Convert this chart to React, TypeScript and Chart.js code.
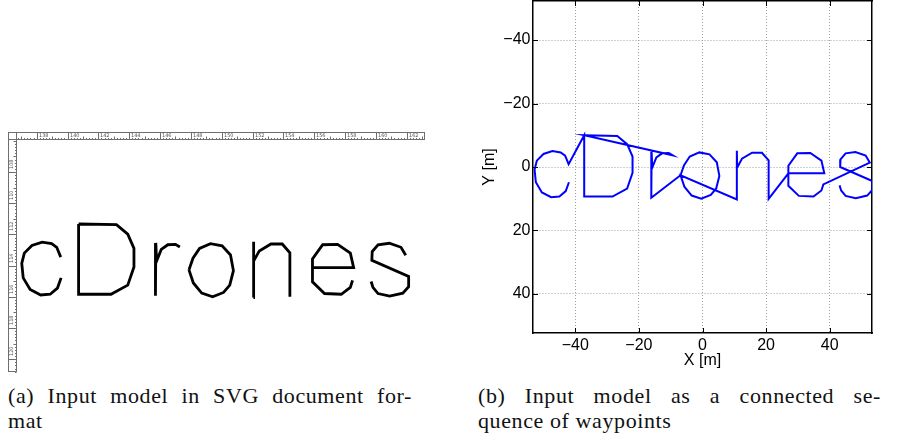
import React, { useEffect, useRef } from 'react';
import { Chart, registerables } from 'chart.js';

Chart.register(...registerables);

type Pt = [number, number];

// Waypoints of each letter stroke (metres; y grows downwards)
const LETTER_C: Pt[] = [
  [-42.0, 4.8], [-43.0, 7.6], [-45.0, 9.3], [-47.6, 9.5], [-50.5, 8.0], [-52.4, 4.8],
  [-52.8, 0.8], [-52.1, -2.0], [-50.0, -4.1], [-47.2, -5.0], [-44.6, -4.6], [-43.2, -3.6], [-42.1, -0.9],
];
const LETTER_D: Pt[] = [
  [-37.2, -10.0], [-37.2, 9.3], [-28.3, 9.3], [-23.7, 6.8], [-22.0, 1.8], [-22.0, -3.3],
  [-23.7, -7.2], [-26.8, -9.8], [-37.2, -10.0],
];
const LETTER_R: Pt[] = [
  [-9.4, -3.7], [-10.6, -4.4], [-12.7, -4.3], [-14.5, -3.0], [-15.8, 0.2], [-16.0, -4.8], [-16.1, 9.7],
];
const LETTER_O: Pt[] = [
  [-6.9, 2.6], [-5.8, -0.6], [-4.0, -3.3], [-1.0, -4.6], [2.2, -4.0], [4.5, -1.5], [5.3, 2.8],
  [4.3, 6.8], [2.6, 8.8], [-0.4, 10.0], [-3.4, 9.0], [-5.7, 6.2], [-6.9, 2.6],
];
const LETTER_N: Pt[] = [
  [10.8, 10.2], [10.8, -5.1], [10.9, 0.2], [12.4, -2.6], [15.6, -4.5], [18.7, -4.5], [20.8, -2.1], [20.8, 10.0],
];
const LETTER_E: Pt[] = [
  [27.0, 2.0], [27.0, -0.4], [29.8, -4.3], [33.9, -4.4], [37.4, -2.0], [38.3, 2.0], [27.0, 2.0],
  [27.0, 5.9], [30.3, 9.1], [34.9, 9.3], [37.4, 7.4], [38.0, 5.5],
];
const LETTER_S: Pt[] = [
  [52.6, -1.4], [51.3, -3.6], [48.1, -4.7], [45.0, -4.3], [43.4, -2.4], [43.3, 0.0], [53.4, 4.4],
  [53.4, 7.2], [51.8, 9.0], [48.2, 9.8], [45.0, 9.1], [43.6, 7.4], [43.1, 5.8],
];
const STROKES: Pt[][] = [LETTER_C, LETTER_D, LETTER_R, LETTER_O, LETTER_N, LETTER_E, LETTER_S];

const AXIS_TICKS = [-40, -20, 0, 20, 40];
const TOP_RULER_TICKS = [138, 140, 142, 144, 146, 148, 150, 152, 154, 156, 158, 160, 162];
const LEFT_RULER_TICKS = [108, 110, 112, 114, 116, 118, 120];

const AXIS_FONT = '"Liberation Sans", Arial, Helvetica, sans-serif';

const fmt = (v: number) => (v < 0 ? '\u2212' + Math.abs(v) : String(v));

const rulerPlugin = {
  id: 'svgRuler',
  afterDraw(chart: any) {
    const { ctx, chartArea: a, scales } = chart;
    const rx = scales.rx;
    const ry = scales.ry;
    const x0 = a.left - 8;
    const y0 = a.top - 7;
    ctx.save();
    ctx.lineWidth = 1;
    ctx.strokeStyle = '#6e6e6e';
    ctx.strokeRect(x0 + 0.5, y0 + 0.5, a.right - x0 - 1, 7);
    ctx.strokeRect(x0 + 0.5, y0 + 0.5, 8, a.bottom - y0 - 1);
    ctx.beginPath();
    for (let k = Math.ceil(rx.min * 5); k <= Math.floor(rx.max * 5); k++) {
      const px = Math.round(rx.getPixelForValue(k / 5)) + 0.5;
      const len = k % 5 === 0 ? 3 : 1.5;
      ctx.moveTo(px, y0 + 7.5);
      ctx.lineTo(px, y0 + 7.5 - len);
    }
    for (let k = Math.ceil(ry.min * 5); k <= Math.floor(ry.max * 5); k++) {
      const py = Math.round(ry.getPixelForValue(k / 5)) + 0.5;
      const len = k % 5 === 0 ? 3 : 1.5;
      ctx.moveTo(x0 + 8.5, py);
      ctx.lineTo(x0 + 8.5 - len, py);
    }
    TOP_RULER_TICKS.forEach((v) => {
      const px = Math.round(rx.getPixelForValue(v)) + 0.5;
      ctx.moveTo(px, y0 + 0.5);
      ctx.lineTo(px, y0 + 7.5);
    });
    LEFT_RULER_TICKS.forEach((v) => {
      const py = Math.round(ry.getPixelForValue(v)) + 0.5;
      ctx.moveTo(x0 + 0.5, py);
      ctx.lineTo(x0 + 8.5, py);
    });
    ctx.stroke();
    ctx.fillStyle = '#555';
    ctx.font = '5px "DejaVu Sans", sans-serif';
    ctx.textBaseline = 'middle';
    ctx.textAlign = 'left';
    TOP_RULER_TICKS.forEach((v) => {
      const px = Math.round(rx.getPixelForValue(v));
      ctx.fillText(String(v), px + 2, y0 + 3.5);
    });
    LEFT_RULER_TICKS.forEach((v) => {
      const py = Math.round(ry.getPixelForValue(v));
      ctx.save();
      ctx.translate(x0 + 3.5, py - 3);
      ctx.rotate(-Math.PI / 2);
      ctx.fillText(String(v), 0, 0);
      ctx.restore();
    });
    ctx.restore();
  },
};

const inwardTicks = {
  id: 'inwardTicks',
  afterDatasetsDraw(chart: any) {
    const { ctx, chartArea: a, scales } = chart;
    const x = scales.x;
    const y = scales.y;
    ctx.save();
    ctx.strokeStyle = '#000';
    ctx.lineWidth = 1;
    ctx.beginPath();
    AXIS_TICKS.forEach((v) => {
      const px = Math.round(x.getPixelForValue(v)) + 0.5;
      ctx.moveTo(px, a.bottom);
      ctx.lineTo(px, a.bottom - 5);
      ctx.moveTo(px, a.top);
      ctx.lineTo(px, a.top + 5);
      const py = Math.round(y.getPixelForValue(v)) + 0.5;
      ctx.moveTo(a.left, py);
      ctx.lineTo(a.left + 5, py);
      ctx.moveTo(a.right, py);
      ctx.lineTo(a.right - 5, py);
    });
    ctx.stroke();
    ctx.restore();
  },
};

const toXY = (pts: Pt[]) => pts.map(([x, y]) => ({ x, y }));

const noPad = (s: any) => {
  s.paddingTop = 0;
  s.paddingBottom = 0;
  s.paddingLeft = 0;
  s.paddingRight = 0;
};

export default function App() {
  const leftRef = useRef<HTMLCanvasElement>(null);
  const rightRef = useRef<HTMLCanvasElement>(null);

  useEffect(() => {
    const left = new Chart(leftRef.current as HTMLCanvasElement, {
      type: 'scatter',
      data: {
        datasets: STROKES.map((s) => ({
          data: toXY(s),
          showLine: true,
          borderColor: '#000',
          borderWidth: 2.8,
          pointRadius: 0,
          borderJoinStyle: 'miter' as const,
          borderCapStyle: 'butt' as const,
          clip: false as any,
        })),
      },
      options: {
        responsive: false,
        animation: false,
        events: [],
        layout: { padding: { left: 16, top: 139, right: 25, bottom: 8 } },
        plugins: { legend: { display: false }, tooltip: { enabled: false } },
        scales: {
          x: { type: 'linear', display: false, min: -54.38, max: 57.89 },
          y: { type: 'linear', display: false, min: -33.35, max: 30.66, reverse: true },
          rx: { type: 'linear', axis: 'x', position: 'top', display: false, min: 136.66, max: 163.18 },
          ry: { type: 'linear', axis: 'y', position: 'left', display: false, min: 105.885, max: 120.82, reverse: true },
        } as any,
      },
      plugins: [rulerPlugin],
    });

    const right = new Chart(rightRef.current as HTMLCanvasElement, {
      type: 'scatter',
      data: {
        datasets: [
          {
            data: toXY(STROKES.flat()),
            showLine: true,
            borderColor: '#0000ff',
            borderWidth: 2,
            pointRadius: 0,
            borderJoinStyle: 'miter' as const,
            clip: 0 as any,
          },
        ],
      },
      options: {
        responsive: false,
        animation: false,
        events: [],
        layout: { padding: { left: 0, top: 1, right: 32, bottom: 0 } },
        plugins: { legend: { display: false }, tooltip: { enabled: false } },
        scales: {
          x: {
            type: 'linear',
            position: 'bottom',
            min: -53.3,
            max: 53.3,
            afterBuildTicks: (s: any) => { s.ticks = AXIS_TICKS.map((v) => ({ value: v })); },
            afterFit: (s: any) => { s.height = 39; noPad(s); },
            ticks: { callback: (v: any) => fmt(Number(v)), font: { family: AXIS_FONT, size: 16 }, color: '#000', padding: 3, maxRotation: 0, autoSkip: false },
            grid: { color: '#a0a0a0', lineWidth: 1, drawTicks: false },
            border: { display: true, color: '#000', width: 1.5, dash: [1, 2] },
            title: { display: true, text: 'X [m]', font: { family: AXIS_FONT, size: 16 }, color: '#000', padding: { top: 0, bottom: 2 } },
          },
          y: {
            type: 'linear',
            position: 'left',
            reverse: true,
            min: -52.3,
            max: 52.3,
            afterBuildTicks: (s: any) => { s.ticks = AXIS_TICKS.map((v) => ({ value: v })); },
            afterFit: (s: any) => { s.width = 73; noPad(s); },
            ticks: { callback: (v: any) => fmt(Number(v)), font: { family: AXIS_FONT, size: 16 }, color: '#000', padding: 2.5, autoSkip: false },
            grid: { color: '#a0a0a0', lineWidth: 1, drawTicks: false },
            border: { display: true, color: '#000', width: 1.5, dash: [1, 2] },
            title: { display: true, text: 'Y [m]', font: { family: AXIS_FONT, size: 16 }, color: '#000', padding: { top: 20, bottom: 0 } },
          },
          x2: {
            type: 'linear', axis: 'x', position: 'top', min: -53.3, max: 53.3,
            grid: { display: false }, ticks: { display: false },
            border: { display: true, color: '#000', width: 1.5 },
            afterFit: (s: any) => { s.height = 0; noPad(s); },
          },
          y2: {
            type: 'linear', axis: 'y', position: 'right', min: -52.3, max: 52.3,
            grid: { display: false }, ticks: { display: false },
            border: { display: true, color: '#000', width: 1.5 },
            afterFit: (s: any) => { s.width = 0; noPad(s); },
          },
        } as any,
      },
      plugins: [inwardTicks],
    });

    return () => {
      left.destroy();
      right.destroy();
    };
  }, []);

  const cap: React.CSSProperties = {
    position: 'absolute',
    fontFamily: '"Liberation Serif", "DejaVu Serif", serif',
    fontSize: 22,
    lineHeight: '25px',
    letterSpacing: '0.6px',
    color: '#111',
    whiteSpace: 'nowrap',
  };

  return (
    <div style={{ position: 'absolute', left: 0, top: 0, width: 904, height: 440, background: '#fff', overflow: 'hidden' }}>
      <canvas ref={leftRef} width={450} height={380} style={{ position: 'absolute', left: 0, top: 0, width: 450, height: 380 }} />
      <canvas ref={rightRef} width={444} height={372} style={{ position: 'absolute', left: 460, top: 0, width: 444, height: 372 }} />
      <div style={{ ...cap, left: 8, top: 383, width: 404, textAlign: 'justify', textAlignLast: 'justify', whiteSpace: 'normal' }}>(a) Input model in SVG document for-</div>
      <div style={{ ...cap, left: 8, top: 408 }}>mat</div>
      <div style={{ ...cap, left: 478, top: 383, width: 403, textAlign: 'justify', textAlignLast: 'justify', whiteSpace: 'normal' }}>(b) Input model as a connected se-</div>
      <div style={{ ...cap, left: 478, top: 408 }}>quence of waypoints</div>
    </div>
  );
}
